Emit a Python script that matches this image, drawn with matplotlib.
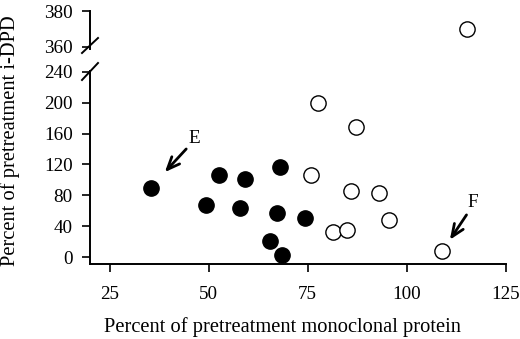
import numpy as np
import matplotlib.pyplot as plt
from matplotlib.lines import Line2D

plt.rcParams['font.family'] = ['Liberation Serif', 'DejaVu Serif']

# responders (filled) and non-responders (open)
filled_x = [35.4, 49.2, 52.6, 59.1, 58.0, 67.3, 74.3, 65.4, 68.6, 68.1]
filled_y = [90, 68, 106, 101, 64, 57, 50, 21, 3, 117]
open_x = [115.1, 77.6, 87.1, 75.7, 85.8, 93.0, 95.5, 81.4, 85.0, 108.8]
open_y = [370, 199, 169, 106, 86, 83, 48, 33, 35, 8]

x_ticks = [25, 50, 75, 100, 125]
y_ticks_low = [0, 40, 80, 120, 160, 200, 240]
y_ticks_high = [360, 380]

W, H = 520, 339
fig = plt.figure(figsize=(W / 100, H / 100), dpi=100)

# lower part of the broken y axis
ax = fig.add_axes([90 / W, 75 / H, 415.7 / W, 193 / H])
# upper part
ax2 = fig.add_axes([90 / W, 290.5 / H, 415.7 / W, 37.5 / H])

fs = 13.8
for a in (ax, ax2):
    a.set_xlim(20, 125)
    a.spines['top'].set_visible(False)
    a.spines['right'].set_visible(False)
    for s in a.spines.values():
        s.set_linewidth(1.4)
    a.tick_params(direction='out', length=6, width=1.2, labelsize=fs)
    a.tick_params(axis='y', pad=6.5)
    a.tick_params(axis='x', pad=10)
    a.patch.set_alpha(0)

ax.set_ylim(-9, 241)
ax.set_xticks(x_ticks)
ax.set_yticks(y_ticks_low)

ax2.set_ylim(359, 380)
ax2.set_yticks(y_ticks_high)
ax2.spines['bottom'].set_visible(False)
ax2.set_xticks([])

low = [(x, y) for x, y in zip(open_x, open_y) if y < 300]
high = [(x, y) for x, y in zip(open_x, open_y) if y >= 300]

ms = 11
ax.plot(filled_x, filled_y, 'o', color='black', markersize=ms, clip_on=False)
ax.plot([p[0] for p in low], [p[1] for p in low], 'o', mfc='white', mec='black',
        mew=1.0, markersize=ms, clip_on=False)
ax2.plot([p[0] for p in high], [p[1] for p in high], 'o', mfc='white', mec='black',
         mew=1.0, markersize=ms, clip_on=False)

# arrows pointing at cases E and F
arrow = dict(arrowstyle='->,head_length=0.9,head_width=0.38', lw=2.0, color='black',
             shrinkA=0, shrinkB=0)
ax.annotate('', xy=(38.9, 110), xytext=(44.3, 140), arrowprops=arrow)
ax.text(46.4, 153, 'E', fontsize=fs, ha='center', va='center')
ax.annotate('', xy=(110.9, 22.4), xytext=(115.1, 54.6), arrowprops=arrow)
ax.text(116.8, 70.5, 'F', fontsize=fs, ha='center', va='center')

# break marks on the y axis
def px(x, y):
    return x / W, 1 - y / H

for (x0, y0, x1, y1) in [(82, 80, 98, 63), (82, 53, 98, 38)]:
    a0, b0 = px(x0, y0)
    a1, b1 = px(x1, y1)
    fig.add_artist(Line2D([a0, a1], [b0, b1], color='black', lw=1.4))

lab = 14.8
fig.text(282.5 / W, 1 - 326.7 / H, 'Percent of pretreatment monoclonal protein',
         fontsize=lab, ha='center', va='center')
fig.text(10 / W, 1 - 141 / H, 'Percent of pretreatment i-DPD', fontsize=lab,
         rotation=90, ha='center', va='center')

fig.savefig('out.png', dpi=100)
